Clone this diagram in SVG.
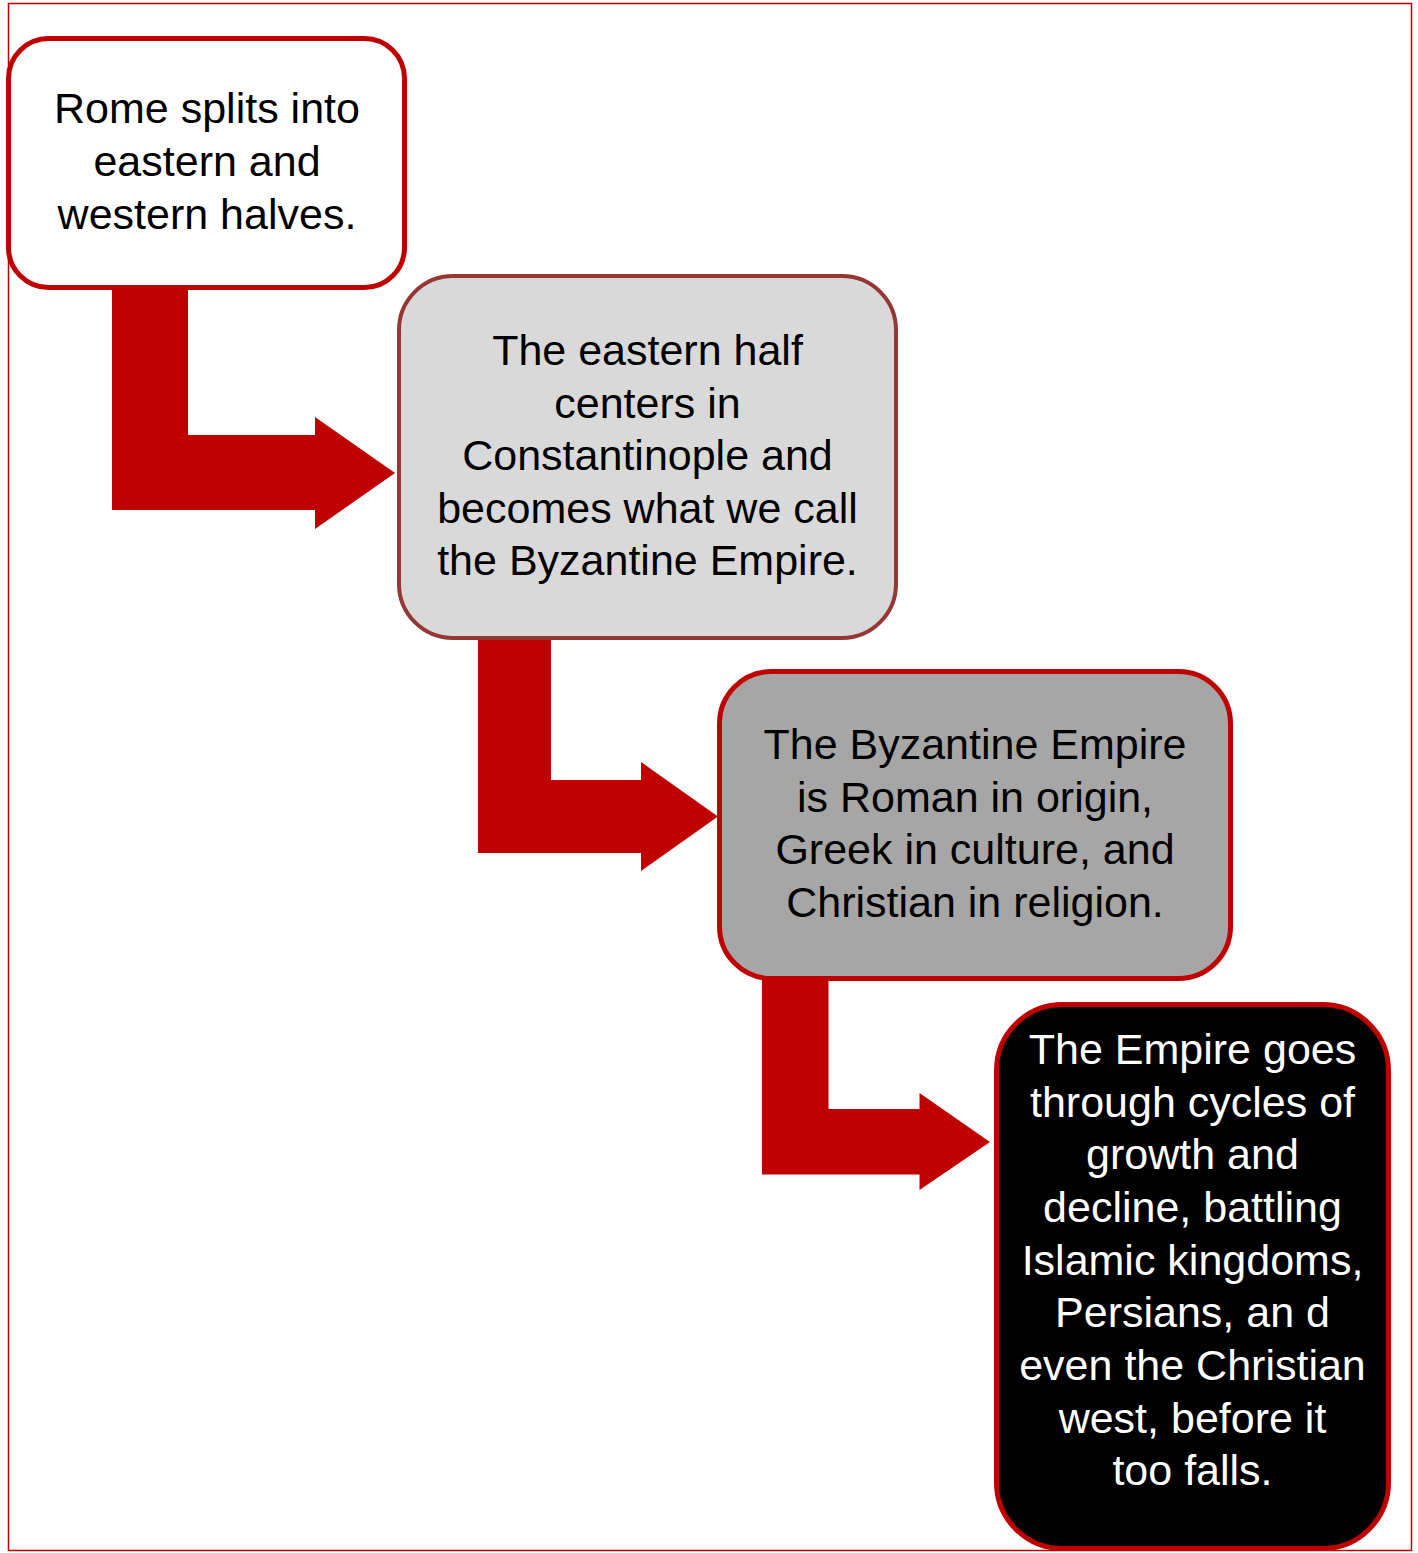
<svg xmlns="http://www.w3.org/2000/svg" width="1418" height="1553" viewBox="0 0 1418 1553">
<style>
.t{font-family:"Liberation Sans",Arial,sans-serif;font-size:43px;text-anchor:middle;fill:#000}
.w{fill:#fff}
.arr{fill:#c00000}
.box{stroke-width:5}
</style>
<rect x="0" y="0" width="1418" height="1553" fill="#fff"/>
<rect x="8.5" y="3.5" width="1403" height="1547" fill="none" stroke="#c00000" stroke-width="1.5"/>
<g id="connectors">
<path class="arr" d="M112,285 H188 V435 H315 V417 L395,473 L315,529 V510 H112 Z"/>
<path class="arr" d="M478,634 H551 V780 H641 V762 L718,816.5 L641,871 V853 H478 Z"/>
<path class="arr" d="M762,976 H828.5 V1109 H919.5 V1093 L990,1142 L919.5,1190 V1174.5 H762 Z"/>
</g>
<g id="node1">
<rect class="box" x="8.5" y="38.5" width="396" height="249" rx="40" fill="#fff" stroke="#c00000"/>
<text class="t" x="207" y="123">Rome splits into</text>
<text class="t" x="207" y="176">eastern and</text>
<text class="t" x="207" y="229">western halves.</text>
</g>
<g id="node2">
<rect x="399" y="276" width="497" height="362" rx="54" fill="#d9d9d9" stroke="#953735" stroke-width="4"/>
<text class="t" x="647.5" y="365">The eastern half</text>
<text class="t" x="647.5" y="417.5">centers in</text>
<text class="t" x="647.5" y="470">Constantinople and</text>
<text class="t" x="647.5" y="522.5">becomes what we call</text>
<text class="t" x="647.5" y="575">the Byzantine Empire.</text>
</g>
<g id="node3">
<rect class="box" x="719.5" y="671.5" width="511" height="307" rx="52" fill="#a6a6a6" stroke="#c00000"/>
<text class="t" x="975" y="759">The Byzantine Empire</text>
<text class="t" x="975" y="812">is Roman in origin,</text>
<text class="t" x="975" y="864">Greek in culture, and</text>
<text class="t" x="975" y="917">Christian in religion.</text>
</g>
<g id="node4">
<rect class="box" x="996.5" y="1004.5" width="392" height="544" rx="66" fill="#000" stroke="#c00000"/>
<text class="t w" x="1192.5" y="1064">The Empire goes</text>
<text class="t w" x="1192.5" y="1117">through cycles of</text>
<text class="t w" x="1192.5" y="1169">growth and</text>
<text class="t w" x="1192.5" y="1222">decline, battling</text>
<text class="t w" x="1192.5" y="1275">Islamic kingdoms,</text>
<text class="t w" x="1192.5" y="1327">Persians, an d</text>
<text class="t w" x="1192.5" y="1380">even the Christian</text>
<text class="t w" x="1192.5" y="1433">west, before it</text>
<text class="t w" x="1192.5" y="1485">too falls.</text>
</g>
</svg>
